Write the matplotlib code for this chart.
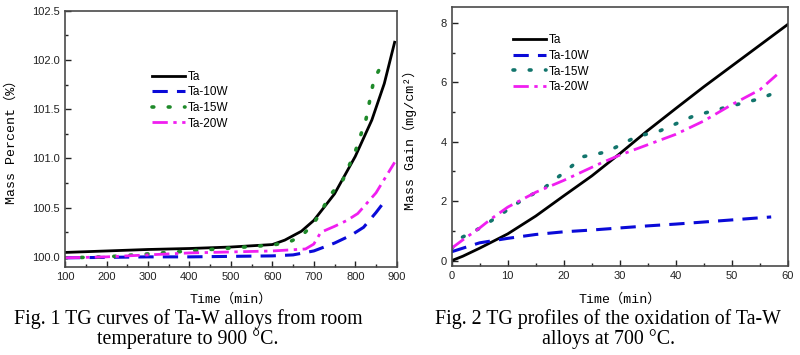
import matplotlib
matplotlib.use("Agg")
import matplotlib.pyplot as plt
from matplotlib.ticker import MultipleLocator

# --- Fig. 1 : TG curves, room temperature to 900 C ---
t1_ta = [100, 200, 300, 400, 500, 600, 630, 670, 700, 750, 800, 840, 870, 895]
m1_ta = [100.045, 100.06, 100.075, 100.085, 100.1, 100.125, 100.17, 100.26, 100.37, 100.64, 101.02, 101.39, 101.76, 102.18]

t1_10w = [100, 200, 300, 400, 500, 600, 650, 700, 750, 790, 820, 850, 870]
m1_10w = [99.99, 99.995, 100.0, 100.0, 100.005, 100.01, 100.02, 100.06, 100.14, 100.22, 100.3, 100.45, 100.56]

t1_15w = [100, 200, 300, 400, 500, 600, 640, 670, 700, 720, 740, 770, 800, 826, 845, 870]
m1_15w = [99.99, 100.0, 100.03, 100.06, 100.09, 100.12, 100.15, 100.21, 100.34, 100.48, 100.63, 100.78, 101.07, 101.4, 101.8, 102.0]

t1_20w = [100, 200, 300, 400, 500, 600, 680, 700, 717, 750, 780, 806, 850, 895]
m1_20w = [99.99, 100.0, 100.02, 100.04, 100.05, 100.06, 100.08, 100.13, 100.25, 100.31, 100.37, 100.44, 100.65, 100.96]

# --- Fig. 2 : oxidation at 700 C ---
t2_ta = [0, 2, 5, 10, 15, 20, 25, 30, 35, 40, 45, 50, 55, 60]
m2_ta = [0.0, 0.15, 0.42, 0.9, 1.5, 2.18, 2.85, 3.6, 4.38, 5.12, 5.85, 6.55, 7.25, 7.95]

t2_10w = [0, 5, 10, 15, 20, 25, 30, 35, 40, 45, 50, 57]
m2_10w = [0.3, 0.6, 0.75, 0.88, 0.97, 1.03, 1.1, 1.17, 1.23, 1.3, 1.37, 1.47]

t2_15w = [0, 1.2, 5, 7.7, 12.8, 16.4, 20, 23.5, 27.7, 31.2, 33, 37.2, 43.1, 49.4, 55.3, 58]
m2_15w = [0.4, 0.72, 1.09, 1.42, 2.07, 2.43, 2.96, 3.5, 3.66, 4.0, 4.17, 4.37, 4.86, 5.18, 5.46, 5.68]

t2_20w = [0, 2, 5, 7, 10, 15, 20, 26.5, 30, 35, 40, 45, 50, 55, 58]
m2_20w = [0.42, 0.7, 1.1, 1.4, 1.8, 2.3, 2.7, 3.27, 3.55, 3.9, 4.25, 4.7, 5.25, 5.75, 6.25]

labels = ["Ta", "Ta-10W", "Ta-15W", "Ta-20W"]

tick_font = "Liberation Sans"
label_font = ["Liberation Mono", "Noto Sans CJK SC", "DejaVu Sans"]
cap_font = "Liberation Serif"

fig = plt.figure(figsize=(8, 3.55), dpi=100)
ax1 = fig.add_axes([0.0813, 0.2487, 0.4146, 0.7211])
ax2 = fig.add_axes([0.5646, 0.2507, 0.4204, 0.7287])


def draw(ax, series, green):
    (x0, y0), (x1, y1), (x2, y2), (x3, y3) = series
    ax.plot(x0, y0, color="black", lw=2.0, label=labels[0])
    ax.plot(x1, y1, color="#0a0ad8", lw=2.2, linestyle=(0, (5, 3)), label=labels[1])
    ax.plot(x2, y2, color=green, lw=2.6, linestyle=(0, (0.5, 4.0)),
            dash_capstyle="round", label=labels[2])
    ax.plot(x3, y3, color="#f01ef0", lw=2.0, linestyle=(0, (5.5, 2, 1.2, 2)), label=labels[3])


def style(ax):
    for s in ax.spines.values():
        s.set_color("#4a4a4a")
        s.set_linewidth(1.2)
    ax.tick_params(which="both", direction="in", top=False, right=False,
                   colors="#222222", labelsize=8, width=1)
    ax.tick_params(which="major", length=4)
    ax.tick_params(which="minor", length=2.2)
    for lab in ax.get_xticklabels() + ax.get_yticklabels():
        lab.set_fontfamily(tick_font)


draw(ax1, [(t1_ta, m1_ta), (t1_10w, m1_10w), (t1_15w, m1_15w), (t1_20w, m1_20w)], "#1f8a2a")
ax1.set_xlim(100, 900)
ax1.set_ylim(99.9, 102.5)
ax1.xaxis.set_major_locator(MultipleLocator(100))
ax1.xaxis.set_minor_locator(MultipleLocator(50))
ax1.yaxis.set_major_locator(MultipleLocator(0.5))
ax1.yaxis.set_minor_locator(MultipleLocator(0.25))
ax1.yaxis.set_major_formatter(plt.FormatStrFormatter("%.1f"))
style(ax1)
ax1.set_xlabel("Time（min）", family=label_font, fontsize=9.5)
ax1.set_ylabel("Mass Percent（%）", family=label_font, fontsize=9.5)
ax1.xaxis.set_label_coords(0.5, -0.105)
ax1.yaxis.set_label_coords(-0.142, 0.5)
ax1.legend(loc="upper left", bbox_to_anchor=(0.262, 0.765), frameon=False,
           prop={"family": tick_font, "size": 8.5}, handlelength=2.8,
           handletextpad=0.2, labelspacing=0.3, borderpad=0, borderaxespad=0)

draw(ax2, [(t2_ta, m2_ta), (t2_10w, m2_10w), (t2_15w, m2_15w), (t2_20w, m2_20w)], "#12756c")
ax2.set_xlim(0, 60)
ax2.set_ylim(-0.18, 8.52)
ax2.xaxis.set_major_locator(MultipleLocator(10))
ax2.xaxis.set_minor_locator(MultipleLocator(5))
ax2.yaxis.set_major_locator(MultipleLocator(2))
ax2.yaxis.set_minor_locator(MultipleLocator(1))
style(ax2)
ax2.set_xlabel("Time（min）", family=label_font, fontsize=9.5)
ax2.set_ylabel("Mass Gain（mg/cm²）", family=label_font, fontsize=9.5)
ax2.xaxis.set_label_coords(0.5, -0.105)
ax2.yaxis.set_label_coords(-0.103, 0.5)
ax2.legend(loc="upper left", bbox_to_anchor=(0.182, 0.895), frameon=False,
           prop={"family": tick_font, "size": 8.5}, handlelength=2.8,
           handletextpad=0.2, labelspacing=0.3, borderpad=0, borderaxespad=0)

# captions
fig.text(0.235, 0.072, "Fig. 1 TG curves of Ta-W alloys from room\ntemperature to 900 °C.",
         ha="center", va="center", family=cap_font, fontsize=14.3, linespacing=1.0)
fig.text(0.76, 0.072, "Fig. 2 TG profiles of the oxidation of Ta-W\nalloys at 700 °C.",
         ha="center", va="center", family=cap_font, fontsize=14.3, linespacing=1.0)

fig.savefig("out.png", dpi=100)
